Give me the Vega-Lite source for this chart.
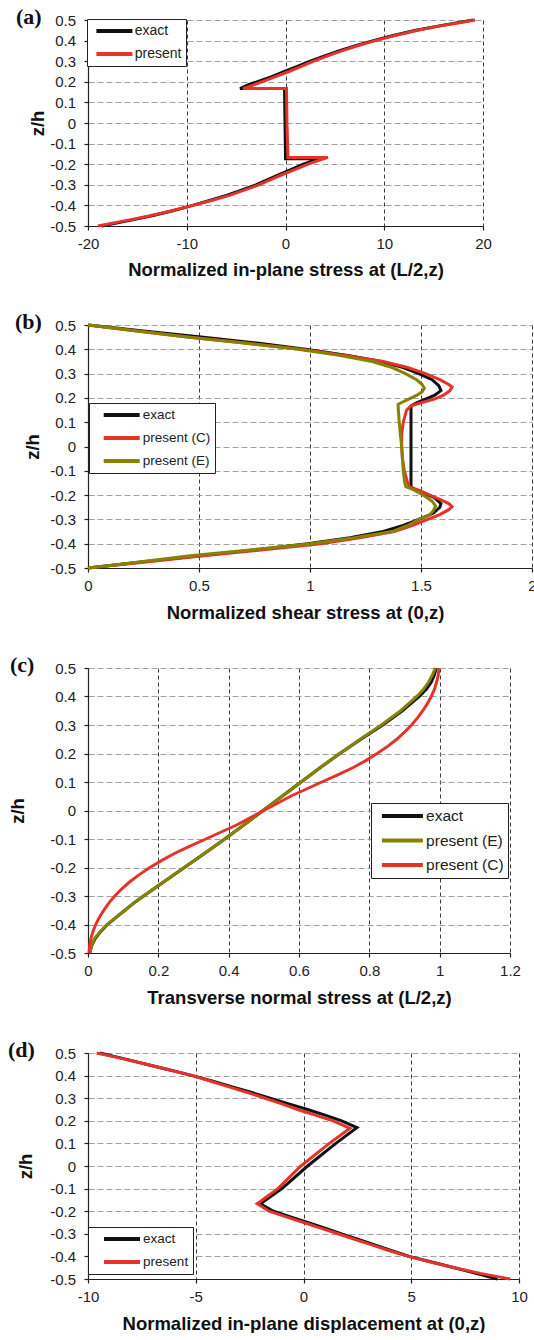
{
  "$schema": "https://vega.github.io/schema/vega-lite/v6.json",
  "padding": {"left": 8, "top": 6, "right": 0, "bottom": 0},
  "background": "white",
  "config": {
    "font": "Liberation Sans",
    "view": {"stroke": null},
    "axis": {
      "labelFont": "Liberation Sans", "labelFontSize": 15, "labelColor": "#222",
      "titleFont": "Liberation Sans", "titleFontSize": 18.5, "titleFontWeight": "bold", "titleColor": "#111",
      "titleBaseline": "middle",
      "domainColor": "#222", "domainWidth": 1.2, "tickColor": "#222", "tickSize": 4, "tickWidth": 1.2,
      "grid": true, "gridWidth": 1, "labelOverlap": false, "labelFlush": false
    },
    "axisX": {"gridColor": "#3a3a3a", "gridDash": [4, 3], "labelPadding": 6},
    "axisY": {"gridColor": "#a0a0a0", "gridDash": [6, 3], "labelPadding": 8.5},
    "legend": {
      "title": null, "orient": "none", "symbolType": "M-3,0H3", "symbolStrokeWidth": 4, "symbolSize": 144,
      "labelFont": "Liberation Sans", "labelColor": "#222", "fillColor": "white", "strokeColor": "#222",
      "padding": 4, "rowPadding": 7, "cornerRadius": 0
    },
    "title": {"font": "Liberation Serif", "fontSize": 22, "fontWeight": "bold", "color": "#111", "anchor": "start", "frame": "group", "baseline": "middle", "offset": -16}
  },
  "datasets": {
    "a": [
      {"series": "exact", "i": 1, "z": -0.5, "v": -18.6},
      {"series": "exact", "i": 2, "z": -0.475, "v": -16.0},
      {"series": "exact", "i": 3, "z": -0.45, "v": -13.5},
      {"series": "exact", "i": 4, "z": -0.425, "v": -11.3},
      {"series": "exact", "i": 5, "z": -0.4, "v": -9.4},
      {"series": "exact", "i": 6, "z": -0.375, "v": -7.6},
      {"series": "exact", "i": 7, "z": -0.35, "v": -5.9},
      {"series": "exact", "i": 8, "z": -0.325, "v": -4.4},
      {"series": "exact", "i": 9, "z": -0.3, "v": -3.0},
      {"series": "exact", "i": 10, "z": -0.275, "v": -1.8},
      {"series": "exact", "i": 11, "z": -0.25, "v": -0.6},
      {"series": "exact", "i": 12, "z": -0.225, "v": 0.6},
      {"series": "exact", "i": 13, "z": -0.2, "v": 1.8},
      {"series": "exact", "i": 14, "z": -0.185, "v": 2.7},
      {"series": "exact", "i": 15, "z": -0.174, "v": 3.7},
      {"series": "exact", "i": 16, "z": -0.174, "v": 0.0},
      {"series": "exact", "i": 17, "z": 0, "v": -0.05},
      {"series": "exact", "i": 18, "z": 0.167, "v": -0.1},
      {"series": "exact", "i": 19, "z": 0.167, "v": -4.6},
      {"series": "exact", "i": 20, "z": 0.185, "v": -3.8},
      {"series": "exact", "i": 21, "z": 0.2, "v": -2.9},
      {"series": "exact", "i": 22, "z": 0.225, "v": -1.4},
      {"series": "exact", "i": 23, "z": 0.25, "v": -0.1},
      {"series": "exact", "i": 24, "z": 0.275, "v": 1.2},
      {"series": "exact", "i": 25, "z": 0.3, "v": 2.5},
      {"series": "exact", "i": 26, "z": 0.325, "v": 3.9},
      {"series": "exact", "i": 27, "z": 0.35, "v": 5.4},
      {"series": "exact", "i": 28, "z": 0.375, "v": 7.1},
      {"series": "exact", "i": 29, "z": 0.4, "v": 8.9},
      {"series": "exact", "i": 30, "z": 0.425, "v": 10.9},
      {"series": "exact", "i": 31, "z": 0.45, "v": 13.2},
      {"series": "exact", "i": 32, "z": 0.475, "v": 16.0},
      {"series": "exact", "i": 33, "z": 0.5, "v": 19.0},
      {"series": "present", "i": 1, "z": -0.5, "v": -19.0},
      {"series": "present", "i": 2, "z": -0.475, "v": -16.3},
      {"series": "present", "i": 3, "z": -0.45, "v": -13.7},
      {"series": "present", "i": 4, "z": -0.425, "v": -11.4},
      {"series": "present", "i": 5, "z": -0.4, "v": -9.4},
      {"series": "present", "i": 6, "z": -0.375, "v": -7.4},
      {"series": "present", "i": 7, "z": -0.35, "v": -5.6},
      {"series": "present", "i": 8, "z": -0.325, "v": -4.1},
      {"series": "present", "i": 9, "z": -0.3, "v": -2.7},
      {"series": "present", "i": 10, "z": -0.275, "v": -1.5},
      {"series": "present", "i": 11, "z": -0.25, "v": -0.3},
      {"series": "present", "i": 12, "z": -0.225, "v": 1.0},
      {"series": "present", "i": 13, "z": -0.2, "v": 2.3},
      {"series": "present", "i": 14, "z": -0.183, "v": 3.3},
      {"series": "present", "i": 15, "z": -0.167, "v": 4.3},
      {"series": "present", "i": 16, "z": -0.167, "v": 0.25},
      {"series": "present", "i": 17, "z": 0, "v": 0.15},
      {"series": "present", "i": 18, "z": 0.167, "v": 0.1},
      {"series": "present", "i": 19, "z": 0.167, "v": -4.3},
      {"series": "present", "i": 20, "z": 0.183, "v": -3.35},
      {"series": "present", "i": 21, "z": 0.2, "v": -2.4},
      {"series": "present", "i": 22, "z": 0.225, "v": -1.0},
      {"series": "present", "i": 23, "z": 0.25, "v": 0.35},
      {"series": "present", "i": 24, "z": 0.275, "v": 1.6},
      {"series": "present", "i": 25, "z": 0.3, "v": 2.85},
      {"series": "present", "i": 26, "z": 0.325, "v": 4.2},
      {"series": "present", "i": 27, "z": 0.35, "v": 5.7},
      {"series": "present", "i": 28, "z": 0.375, "v": 7.3},
      {"series": "present", "i": 29, "z": 0.4, "v": 9.1},
      {"series": "present", "i": 30, "z": 0.425, "v": 11.1},
      {"series": "present", "i": 31, "z": 0.45, "v": 13.4},
      {"series": "present", "i": 32, "z": 0.475, "v": 16.1},
      {"series": "present", "i": 33, "z": 0.5, "v": 19.2}
    ],
    "b": [
      {"series": "exact", "i": 1, "z": 0.5, "v": 0},
      {"series": "exact", "i": 2, "z": 0.475, "v": 0.25},
      {"series": "exact", "i": 3, "z": 0.45, "v": 0.52},
      {"series": "exact", "i": 4, "z": 0.425, "v": 0.77},
      {"series": "exact", "i": 5, "z": 0.4, "v": 0.98},
      {"series": "exact", "i": 6, "z": 0.375, "v": 1.17},
      {"series": "exact", "i": 7, "z": 0.35, "v": 1.32},
      {"series": "exact", "i": 8, "z": 0.325, "v": 1.42},
      {"series": "exact", "i": 9, "z": 0.3, "v": 1.49},
      {"series": "exact", "i": 10, "z": 0.275, "v": 1.55},
      {"series": "exact", "i": 11, "z": 0.25, "v": 1.58},
      {"series": "exact", "i": 12, "z": 0.23, "v": 1.59},
      {"series": "exact", "i": 13, "z": 0.21, "v": 1.56},
      {"series": "exact", "i": 14, "z": 0.195, "v": 1.52},
      {"series": "exact", "i": 15, "z": 0.18, "v": 1.48},
      {"series": "exact", "i": 16, "z": 0.167, "v": 1.455},
      {"series": "exact", "i": 17, "z": 0.1, "v": 1.455},
      {"series": "exact", "i": 18, "z": 0, "v": 1.455},
      {"series": "exact", "i": 19, "z": -0.1, "v": 1.455},
      {"series": "exact", "i": 20, "z": -0.167, "v": 1.455},
      {"series": "exact", "i": 21, "z": -0.18, "v": 1.48},
      {"series": "exact", "i": 22, "z": -0.195, "v": 1.52},
      {"series": "exact", "i": 23, "z": -0.21, "v": 1.56},
      {"series": "exact", "i": 24, "z": -0.235, "v": 1.59},
      {"series": "exact", "i": 25, "z": -0.25, "v": 1.585},
      {"series": "exact", "i": 26, "z": -0.275, "v": 1.555},
      {"series": "exact", "i": 27, "z": -0.3, "v": 1.49},
      {"series": "exact", "i": 28, "z": -0.325, "v": 1.42},
      {"series": "exact", "i": 29, "z": -0.35, "v": 1.33},
      {"series": "exact", "i": 30, "z": -0.375, "v": 1.18},
      {"series": "exact", "i": 31, "z": -0.4, "v": 0.99},
      {"series": "exact", "i": 32, "z": -0.425, "v": 0.76},
      {"series": "exact", "i": 33, "z": -0.45, "v": 0.5},
      {"series": "exact", "i": 34, "z": -0.475, "v": 0.24},
      {"series": "exact", "i": 35, "z": -0.5, "v": 0},
      {"series": "present (C)", "i": 1, "z": 0.5, "v": 0},
      {"series": "present (C)", "i": 2, "z": 0.475, "v": 0.22},
      {"series": "present (C)", "i": 3, "z": 0.45, "v": 0.46},
      {"series": "present (C)", "i": 4, "z": 0.425, "v": 0.72},
      {"series": "present (C)", "i": 5, "z": 0.4, "v": 0.96},
      {"series": "present (C)", "i": 6, "z": 0.375, "v": 1.16},
      {"series": "present (C)", "i": 7, "z": 0.35, "v": 1.33},
      {"series": "present (C)", "i": 8, "z": 0.325, "v": 1.44},
      {"series": "present (C)", "i": 9, "z": 0.3, "v": 1.52},
      {"series": "present (C)", "i": 10, "z": 0.275, "v": 1.585},
      {"series": "present (C)", "i": 11, "z": 0.255, "v": 1.625},
      {"series": "present (C)", "i": 12, "z": 0.245, "v": 1.64},
      {"series": "present (C)", "i": 13, "z": 0.23, "v": 1.63},
      {"series": "present (C)", "i": 14, "z": 0.21, "v": 1.6},
      {"series": "present (C)", "i": 15, "z": 0.195, "v": 1.56},
      {"series": "present (C)", "i": 16, "z": 0.18, "v": 1.5},
      {"series": "present (C)", "i": 17, "z": 0.167, "v": 1.455},
      {"series": "present (C)", "i": 18, "z": 0.15, "v": 1.435},
      {"series": "present (C)", "i": 19, "z": 0.1, "v": 1.42},
      {"series": "present (C)", "i": 20, "z": 0.05, "v": 1.413},
      {"series": "present (C)", "i": 21, "z": 0, "v": 1.413},
      {"series": "present (C)", "i": 22, "z": -0.05, "v": 1.416},
      {"series": "present (C)", "i": 23, "z": -0.1, "v": 1.425},
      {"series": "present (C)", "i": 24, "z": -0.15, "v": 1.44},
      {"series": "present (C)", "i": 25, "z": -0.167, "v": 1.45},
      {"series": "present (C)", "i": 26, "z": -0.18, "v": 1.49},
      {"series": "present (C)", "i": 27, "z": -0.2, "v": 1.54},
      {"series": "present (C)", "i": 28, "z": -0.22, "v": 1.59},
      {"series": "present (C)", "i": 29, "z": -0.235, "v": 1.625},
      {"series": "present (C)", "i": 30, "z": -0.248, "v": 1.64},
      {"series": "present (C)", "i": 31, "z": -0.26, "v": 1.625},
      {"series": "present (C)", "i": 32, "z": -0.28, "v": 1.585},
      {"series": "present (C)", "i": 33, "z": -0.3, "v": 1.53},
      {"series": "present (C)", "i": 34, "z": -0.325, "v": 1.46},
      {"series": "present (C)", "i": 35, "z": -0.35, "v": 1.38},
      {"series": "present (C)", "i": 36, "z": -0.375, "v": 1.23},
      {"series": "present (C)", "i": 37, "z": -0.4, "v": 1.05},
      {"series": "present (C)", "i": 38, "z": -0.425, "v": 0.79},
      {"series": "present (C)", "i": 39, "z": -0.45, "v": 0.52},
      {"series": "present (C)", "i": 40, "z": -0.475, "v": 0.26},
      {"series": "present (C)", "i": 41, "z": -0.5, "v": 0},
      {"series": "present (E)", "i": 1, "z": 0.5, "v": 0},
      {"series": "present (E)", "i": 2, "z": 0.475, "v": 0.22},
      {"series": "present (E)", "i": 3, "z": 0.45, "v": 0.455},
      {"series": "present (E)", "i": 4, "z": 0.425, "v": 0.71},
      {"series": "present (E)", "i": 5, "z": 0.4, "v": 0.945},
      {"series": "present (E)", "i": 6, "z": 0.375, "v": 1.13},
      {"series": "present (E)", "i": 7, "z": 0.35, "v": 1.28},
      {"series": "present (E)", "i": 8, "z": 0.325, "v": 1.37},
      {"series": "present (E)", "i": 9, "z": 0.3, "v": 1.43},
      {"series": "present (E)", "i": 10, "z": 0.275, "v": 1.48},
      {"series": "present (E)", "i": 11, "z": 0.255, "v": 1.505},
      {"series": "present (E)", "i": 12, "z": 0.24, "v": 1.515},
      {"series": "present (E)", "i": 13, "z": 0.225, "v": 1.505},
      {"series": "present (E)", "i": 14, "z": 0.21, "v": 1.48},
      {"series": "present (E)", "i": 15, "z": 0.195, "v": 1.445},
      {"series": "present (E)", "i": 16, "z": 0.18, "v": 1.41},
      {"series": "present (E)", "i": 17, "z": 0.173, "v": 1.397},
      {"series": "present (E)", "i": 18, "z": 0.15, "v": 1.398},
      {"series": "present (E)", "i": 19, "z": 0.1, "v": 1.402},
      {"series": "present (E)", "i": 20, "z": 0.05, "v": 1.407},
      {"series": "present (E)", "i": 21, "z": 0, "v": 1.413},
      {"series": "present (E)", "i": 22, "z": -0.05, "v": 1.417},
      {"series": "present (E)", "i": 23, "z": -0.1, "v": 1.42},
      {"series": "present (E)", "i": 24, "z": -0.15, "v": 1.427},
      {"series": "present (E)", "i": 25, "z": -0.165, "v": 1.432},
      {"series": "present (E)", "i": 26, "z": -0.18, "v": 1.47},
      {"series": "present (E)", "i": 27, "z": -0.2, "v": 1.51},
      {"series": "present (E)", "i": 28, "z": -0.225, "v": 1.55},
      {"series": "present (E)", "i": 29, "z": -0.245, "v": 1.566},
      {"series": "present (E)", "i": 30, "z": -0.265, "v": 1.555},
      {"series": "present (E)", "i": 31, "z": -0.28, "v": 1.54},
      {"series": "present (E)", "i": 32, "z": -0.3, "v": 1.49},
      {"series": "present (E)", "i": 33, "z": -0.325, "v": 1.44},
      {"series": "present (E)", "i": 34, "z": -0.35, "v": 1.37},
      {"series": "present (E)", "i": 35, "z": -0.375, "v": 1.2},
      {"series": "present (E)", "i": 36, "z": -0.4, "v": 1.0},
      {"series": "present (E)", "i": 37, "z": -0.425, "v": 0.74},
      {"series": "present (E)", "i": 38, "z": -0.45, "v": 0.46},
      {"series": "present (E)", "i": 39, "z": -0.475, "v": 0.23},
      {"series": "present (E)", "i": 40, "z": -0.5, "v": 0}
    ],
    "c": [
      {"series": "exact", "i": 1, "z": -0.5, "v": 0.005},
      {"series": "exact", "i": 2, "z": -0.475, "v": 0.01},
      {"series": "exact", "i": 3, "z": -0.45, "v": 0.02},
      {"series": "exact", "i": 4, "z": -0.425, "v": 0.036},
      {"series": "exact", "i": 5, "z": -0.4, "v": 0.055},
      {"series": "exact", "i": 6, "z": -0.375, "v": 0.08},
      {"series": "exact", "i": 7, "z": -0.35, "v": 0.105},
      {"series": "exact", "i": 8, "z": -0.325, "v": 0.13},
      {"series": "exact", "i": 9, "z": -0.3, "v": 0.158},
      {"series": "exact", "i": 10, "z": -0.25, "v": 0.216},
      {"series": "exact", "i": 11, "z": -0.2, "v": 0.274},
      {"series": "exact", "i": 12, "z": -0.15, "v": 0.332},
      {"series": "exact", "i": 13, "z": -0.1, "v": 0.389},
      {"series": "exact", "i": 14, "z": -0.05, "v": 0.444},
      {"series": "exact", "i": 15, "z": 0, "v": 0.498},
      {"series": "exact", "i": 16, "z": 0.05, "v": 0.552},
      {"series": "exact", "i": 17, "z": 0.1, "v": 0.606},
      {"series": "exact", "i": 18, "z": 0.15, "v": 0.66},
      {"series": "exact", "i": 19, "z": 0.2, "v": 0.716},
      {"series": "exact", "i": 20, "z": 0.25, "v": 0.776},
      {"series": "exact", "i": 21, "z": 0.3, "v": 0.838},
      {"series": "exact", "i": 22, "z": 0.35, "v": 0.894},
      {"series": "exact", "i": 23, "z": 0.4, "v": 0.942},
      {"series": "exact", "i": 24, "z": 0.425, "v": 0.962},
      {"series": "exact", "i": 25, "z": 0.45, "v": 0.976},
      {"series": "exact", "i": 26, "z": 0.475, "v": 0.985},
      {"series": "exact", "i": 27, "z": 0.5, "v": 0.99},
      {"series": "present (E)", "i": 1, "z": -0.5, "v": 0.005},
      {"series": "present (E)", "i": 2, "z": -0.475, "v": 0.01},
      {"series": "present (E)", "i": 3, "z": -0.45, "v": 0.018},
      {"series": "present (E)", "i": 4, "z": -0.425, "v": 0.035},
      {"series": "present (E)", "i": 5, "z": -0.4, "v": 0.055},
      {"series": "present (E)", "i": 6, "z": -0.375, "v": 0.08},
      {"series": "present (E)", "i": 7, "z": -0.35, "v": 0.105},
      {"series": "present (E)", "i": 8, "z": -0.325, "v": 0.13},
      {"series": "present (E)", "i": 9, "z": -0.3, "v": 0.158},
      {"series": "present (E)", "i": 10, "z": -0.25, "v": 0.216},
      {"series": "present (E)", "i": 11, "z": -0.2, "v": 0.274},
      {"series": "present (E)", "i": 12, "z": -0.15, "v": 0.332},
      {"series": "present (E)", "i": 13, "z": -0.1, "v": 0.389},
      {"series": "present (E)", "i": 14, "z": -0.05, "v": 0.444},
      {"series": "present (E)", "i": 15, "z": 0, "v": 0.498},
      {"series": "present (E)", "i": 16, "z": 0.05, "v": 0.552},
      {"series": "present (E)", "i": 17, "z": 0.1, "v": 0.606},
      {"series": "present (E)", "i": 18, "z": 0.15, "v": 0.66},
      {"series": "present (E)", "i": 19, "z": 0.2, "v": 0.716},
      {"series": "present (E)", "i": 20, "z": 0.25, "v": 0.774},
      {"series": "present (E)", "i": 21, "z": 0.3, "v": 0.834},
      {"series": "present (E)", "i": 22, "z": 0.35, "v": 0.889},
      {"series": "present (E)", "i": 23, "z": 0.4, "v": 0.935},
      {"series": "present (E)", "i": 24, "z": 0.425, "v": 0.954},
      {"series": "present (E)", "i": 25, "z": 0.45, "v": 0.968},
      {"series": "present (E)", "i": 26, "z": 0.475, "v": 0.979},
      {"series": "present (E)", "i": 27, "z": 0.5, "v": 0.988},
      {"series": "present (C)", "i": 1, "z": -0.5, "v": 0.003},
      {"series": "present (C)", "i": 2, "z": -0.475, "v": 0.005},
      {"series": "present (C)", "i": 3, "z": -0.45, "v": 0.008},
      {"series": "present (C)", "i": 4, "z": -0.425, "v": 0.014},
      {"series": "present (C)", "i": 5, "z": -0.4, "v": 0.022},
      {"series": "present (C)", "i": 6, "z": -0.375, "v": 0.032},
      {"series": "present (C)", "i": 7, "z": -0.35, "v": 0.045},
      {"series": "present (C)", "i": 8, "z": -0.325, "v": 0.059},
      {"series": "present (C)", "i": 9, "z": -0.3, "v": 0.076},
      {"series": "present (C)", "i": 10, "z": -0.275, "v": 0.096},
      {"series": "present (C)", "i": 11, "z": -0.25, "v": 0.119},
      {"series": "present (C)", "i": 12, "z": -0.225, "v": 0.146},
      {"series": "present (C)", "i": 13, "z": -0.2, "v": 0.176},
      {"series": "present (C)", "i": 14, "z": -0.175, "v": 0.21},
      {"series": "present (C)", "i": 15, "z": -0.15, "v": 0.247},
      {"series": "present (C)", "i": 16, "z": -0.125, "v": 0.29},
      {"series": "present (C)", "i": 17, "z": -0.1, "v": 0.335},
      {"series": "present (C)", "i": 18, "z": -0.05, "v": 0.424},
      {"series": "present (C)", "i": 19, "z": 0, "v": 0.5},
      {"series": "present (C)", "i": 20, "z": 0.05, "v": 0.576},
      {"series": "present (C)", "i": 21, "z": 0.1, "v": 0.665},
      {"series": "present (C)", "i": 22, "z": 0.125, "v": 0.71},
      {"series": "present (C)", "i": 23, "z": 0.15, "v": 0.753},
      {"series": "present (C)", "i": 24, "z": 0.175, "v": 0.79},
      {"series": "present (C)", "i": 25, "z": 0.2, "v": 0.822},
      {"series": "present (C)", "i": 26, "z": 0.225, "v": 0.852},
      {"series": "present (C)", "i": 27, "z": 0.25, "v": 0.878},
      {"series": "present (C)", "i": 28, "z": 0.275, "v": 0.9},
      {"series": "present (C)", "i": 29, "z": 0.3, "v": 0.92},
      {"series": "present (C)", "i": 30, "z": 0.325, "v": 0.937},
      {"series": "present (C)", "i": 31, "z": 0.35, "v": 0.952},
      {"series": "present (C)", "i": 32, "z": 0.375, "v": 0.965},
      {"series": "present (C)", "i": 33, "z": 0.4, "v": 0.976},
      {"series": "present (C)", "i": 34, "z": 0.425, "v": 0.985},
      {"series": "present (C)", "i": 35, "z": 0.45, "v": 0.991},
      {"series": "present (C)", "i": 36, "z": 0.475, "v": 0.996},
      {"series": "present (C)", "i": 37, "z": 0.5, "v": 0.998}
    ],
    "d": [
      {"series": "exact", "i": 1, "z": 0.5, "v": -9.45},
      {"series": "exact", "i": 2, "z": 0.475, "v": -8.35},
      {"series": "exact", "i": 3, "z": 0.45, "v": -7.3},
      {"series": "exact", "i": 4, "z": 0.425, "v": -6.2},
      {"series": "exact", "i": 5, "z": 0.4, "v": -5.15},
      {"series": "exact", "i": 6, "z": 0.375, "v": -4.2},
      {"series": "exact", "i": 7, "z": 0.35, "v": -3.3},
      {"series": "exact", "i": 8, "z": 0.325, "v": -2.4},
      {"series": "exact", "i": 9, "z": 0.3, "v": -1.55},
      {"series": "exact", "i": 10, "z": 0.275, "v": -0.68},
      {"series": "exact", "i": 11, "z": 0.25, "v": 0.19},
      {"series": "exact", "i": 12, "z": 0.225, "v": 1.0},
      {"series": "exact", "i": 13, "z": 0.2, "v": 1.77},
      {"series": "exact", "i": 14, "z": 0.17, "v": 2.48},
      {"series": "exact", "i": 15, "z": 0.1, "v": 1.5},
      {"series": "exact", "i": 16, "z": 0, "v": 0.19},
      {"series": "exact", "i": 17, "z": -0.1, "v": -1.0},
      {"series": "exact", "i": 18, "z": -0.167, "v": -2.0},
      {"series": "exact", "i": 19, "z": -0.2, "v": -1.39},
      {"series": "exact", "i": 20, "z": -0.225, "v": -0.6},
      {"series": "exact", "i": 21, "z": -0.25, "v": 0.19},
      {"series": "exact", "i": 22, "z": -0.275, "v": 1.0},
      {"series": "exact", "i": 23, "z": -0.3, "v": 1.77},
      {"series": "exact", "i": 24, "z": -0.325, "v": 2.55},
      {"series": "exact", "i": 25, "z": -0.35, "v": 3.34},
      {"series": "exact", "i": 26, "z": -0.375, "v": 4.1},
      {"series": "exact", "i": 27, "z": -0.4, "v": 4.9},
      {"series": "exact", "i": 28, "z": -0.425, "v": 5.95},
      {"series": "exact", "i": 29, "z": -0.45, "v": 7.0},
      {"series": "exact", "i": 30, "z": -0.475, "v": 8.0},
      {"series": "exact", "i": 31, "z": -0.5, "v": 9.0},
      {"series": "present", "i": 1, "z": 0.5, "v": -9.6},
      {"series": "present", "i": 2, "z": 0.475, "v": -8.4},
      {"series": "present", "i": 3, "z": 0.45, "v": -7.3},
      {"series": "present", "i": 4, "z": 0.425, "v": -6.2},
      {"series": "present", "i": 5, "z": 0.4, "v": -5.15},
      {"series": "present", "i": 6, "z": 0.375, "v": -4.3},
      {"series": "present", "i": 7, "z": 0.35, "v": -3.45},
      {"series": "present", "i": 8, "z": 0.325, "v": -2.6},
      {"series": "present", "i": 9, "z": 0.3, "v": -1.78},
      {"series": "present", "i": 10, "z": 0.275, "v": -1.0},
      {"series": "present", "i": 11, "z": 0.25, "v": -0.28},
      {"series": "present", "i": 12, "z": 0.225, "v": 0.55},
      {"series": "present", "i": 13, "z": 0.2, "v": 1.37},
      {"series": "present", "i": 14, "z": 0.167, "v": 2.16},
      {"series": "present", "i": 15, "z": 0.1, "v": 1.2},
      {"series": "present", "i": 16, "z": 0, "v": -0.12},
      {"series": "present", "i": 17, "z": -0.1, "v": -1.19},
      {"series": "present", "i": 18, "z": -0.167, "v": -2.15},
      {"series": "present", "i": 19, "z": -0.2, "v": -1.6},
      {"series": "present", "i": 20, "z": -0.225, "v": -0.8},
      {"series": "present", "i": 21, "z": -0.25, "v": 0.0},
      {"series": "present", "i": 22, "z": -0.275, "v": 0.8},
      {"series": "present", "i": 23, "z": -0.3, "v": 1.6},
      {"series": "present", "i": 24, "z": -0.325, "v": 2.4},
      {"series": "present", "i": 25, "z": -0.35, "v": 3.2},
      {"series": "present", "i": 26, "z": -0.375, "v": 4.0},
      {"series": "present", "i": 27, "z": -0.4, "v": 4.85},
      {"series": "present", "i": 28, "z": -0.425, "v": 5.9},
      {"series": "present", "i": 29, "z": -0.45, "v": 7.0},
      {"series": "present", "i": 30, "z": -0.475, "v": 8.2},
      {"series": "present", "i": 31, "z": -0.5, "v": 9.6}
    ]
  },
  "concat": [
    {
      "width": 395, "height": 206,
      "title": {"text": "(a)", "dx": -72},
      "data": {"name": "a"},
      "mark": {"type": "line", "strokeWidth": 3},
      "encoding": {
        "x": {"field": "v", "type": "quantitative",
          "scale": {"domain": [-20, 20], "nice": false, "zero": false},
          "axis": {"title": "Normalized in-plane stress at (L/2,z)", "values": [-20, -10, 0, 10, 20], "titleY": 43,
            "labelExpr": "replace(format(datum.value, '~g'), '\u2212', '-')"}},
        "y": {"field": "z", "type": "quantitative",
          "scale": {"domain": [-0.5, 0.5], "nice": false, "zero": false},
          "axis": {"title": "z/h", "values": [-0.5, -0.4, -0.3, -0.2, -0.1, 0, 0.1, 0.2, 0.3, 0.4, 0.5], "titleX": -51,
            "labelExpr": "replace(format(datum.value, '~g'), '\u2212', '-')"}},
        "color": {"field": "series", "type": "nominal",
          "scale": {"domain": ["exact", "present"], "range": ["#111111", "#e5332a"]},
          "legend": {"legendX": -1, "legendY": -1, "labelFontSize": 14, "symbolOffset": 15.4, "labelOffset": 12.3}},
        "order": {"field": "i", "type": "quantitative"}
      }
    },
    {
      "width": 444, "height": 243,
      "title": {"text": "(b)", "dx": -73},
      "data": {"name": "b"},
      "mark": {"type": "line", "strokeWidth": 3},
      "encoding": {
        "x": {"field": "v", "type": "quantitative",
          "scale": {"domain": [0, 2], "nice": false, "zero": false},
          "axis": {"title": "Normalized shear stress at (0,z)", "values": [0, 0.5, 1, 1.5, 2], "titleY": 44, "titleX": 217,
            "labelExpr": "replace(format(datum.value, '~g'), '\u2212', '-')"}},
        "y": {"field": "z", "type": "quantitative",
          "scale": {"domain": [-0.5, 0.5], "nice": false, "zero": false},
          "axis": {"title": "z/h", "values": [-0.5, -0.4, -0.3, -0.2, -0.1, 0, 0.1, 0.2, 0.3, 0.4, 0.5], "titleX": -56,
            "labelExpr": "replace(format(datum.value, '~g'), '\u2212', '-')"}},
        "color": {"field": "series", "type": "nominal",
          "scale": {"domain": ["exact", "present (C)", "present (E)"], "range": ["#111111", "#e5332a", "#848400"]},
          "legend": {"legendX": 1, "legendY": 78, "labelFontSize": 13.5, "symbolOffset": 20.7, "labelOffset": 13.1,
            "labelExpr": "datum.label + '  '"}},
        "order": {"field": "i", "type": "quantitative"}
      }
    },
    {
      "width": 422, "height": 285,
      "title": {"text": "(c)", "dx": -78},
      "data": {"name": "c"},
      "mark": {"type": "line", "strokeWidth": 3},
      "encoding": {
        "x": {"field": "v", "type": "quantitative",
          "scale": {"domain": [0, 1.2], "nice": false, "zero": false},
          "axis": {"title": "Transverse normal stress at (L/2,z)", "values": [0, 0.2, 0.4, 0.6, 0.8, 1, 1.2], "titleY": 44,
            "labelExpr": "replace(format(datum.value, '~g'), '\u2212', '-')"}},
        "y": {"field": "z", "type": "quantitative",
          "scale": {"domain": [-0.5, 0.5], "nice": false, "zero": false},
          "axis": {"title": "z/h", "values": [-0.5, -0.4, -0.3, -0.2, -0.1, 0, 0.1, 0.2, 0.3, 0.4, 0.5], "titleX": -71,
            "labelExpr": "replace(format(datum.value, '~g'), '\u2212', '-')"}},
        "color": {"field": "series", "type": "nominal",
          "scale": {"domain": ["exact", "present (E)", "present (C)"], "range": ["#111111", "#848400", "#e5332a"]},
          "legend": {"legendX": 283, "legendY": 135, "labelFontSize": 15.5, "symbolSize": 187, "symbolOffset": 18.4, "labelOffset": 14.7,
            "rowPadding": 6.5, "labelExpr": "datum.label + ' '"}},
        "order": {"field": "i", "type": "quantitative"}
      }
    },
    {
      "width": 431, "height": 226,
      "title": {"text": "(d)", "dx": -80},
      "data": {"name": "d"},
      "mark": {"type": "line", "strokeWidth": 3},
      "encoding": {
        "x": {"field": "v", "type": "quantitative",
          "scale": {"domain": [-10, 10], "nice": false, "zero": false},
          "axis": {"title": "Normalized in-plane displacement at (0,z)", "values": [-10, -5, 0, 5, 10], "titleY": 44,
            "labelExpr": "replace(format(datum.value, '~g'), '\u2212', '-')"}},
        "y": {"field": "z", "type": "quantitative",
          "scale": {"domain": [-0.5, 0.5], "nice": false, "zero": false},
          "axis": {"title": "z/h", "values": [-0.5, -0.4, -0.3, -0.2, -0.1, 0, 0.1, 0.2, 0.3, 0.4, 0.5], "titleX": -63,
            "labelExpr": "replace(format(datum.value, '~g'), '\u2212', '-')"}},
        "color": {"field": "series", "type": "nominal",
          "scale": {"domain": ["exact", "present"], "range": ["#111111", "#e5332a"]},
          "legend": {"legendX": 0, "legendY": 174, "labelFontSize": 13.5, "symbolOffset": 22, "labelOffset": 13.1,
            "labelExpr": "datum.label + '  '"}},
        "order": {"field": "i", "type": "quantitative"}
      }
    }
  ],
  "columns": 1,
  "spacing": 32,
  "align": "each",
  "bounds": "full",
  "resolve": {"scale": {"color": "independent", "x": "independent", "y": "independent"}, "legend": {"color": "independent"}}
}
